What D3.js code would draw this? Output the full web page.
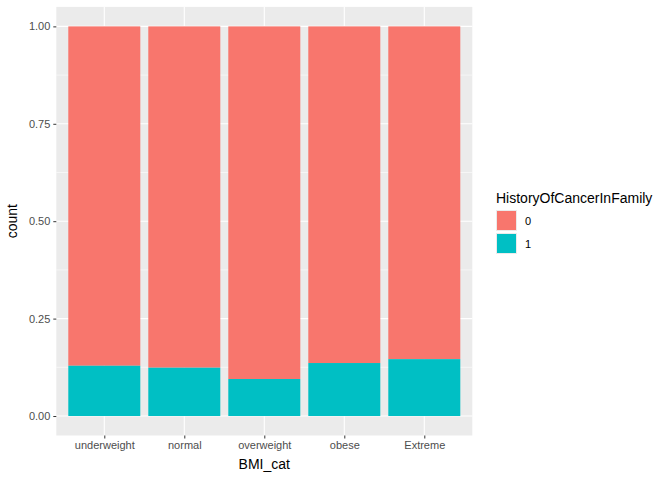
<!DOCTYPE html>
<html><head><meta charset="utf-8">
<script src="https://d3js.org/d3.v7.min.js"></script>
<style>body{margin:0;background:#fff}text{font-family:"Liberation Sans",Arial,sans-serif}</style>
</head><body><script>
var categories = ["underweight","normal","overweight","obese","Extreme"];
var share1 = [0.129, 0.124, 0.095, 0.136, 0.146];
var yTicks = [0, 0.25, 0.5, 0.75, 1];
var legendKeys = ["0","1"];
var colors = {"0":"#F8766D","1":"#00BFC4"};

var svg = d3.select("body").append("svg").attr("width",672).attr("height",480);
var L=56.3, R=472.3, T=6.9, B=435.5;
var x = d3.scaleLinear().domain([0.4,5.6]).range([L,R]);
var y = d3.scaleLinear().domain([-0.05,1.05]).range([B,T]);
svg.append("rect").attr("x",L).attr("y",T).attr("width",R-L).attr("height",B-T).attr("fill","#EBEBEB");
var minor = [0.125,0.375,0.625,0.875];
svg.selectAll(".mn").data(minor).enter().append("line").attr("x1",L).attr("x2",R)
  .attr("y1",d=>y(d)).attr("y2",d=>y(d)).attr("stroke","#fff").attr("stroke-width",0.55);
svg.selectAll(".mj").data(yTicks).enter().append("line").attr("x1",L).attr("x2",R)
  .attr("y1",d=>y(d)).attr("y2",d=>y(d)).attr("stroke","#fff").attr("stroke-width",1.1);
svg.selectAll(".vx").data(categories).enter().append("line").attr("y1",T).attr("y2",B)
  .attr("x1",(d,i)=>x(i+1)).attr("x2",(d,i)=>x(i+1)).attr("stroke","#fff").attr("stroke-width",1.1);
var bw = x(1.45)-x(0.55);
categories.forEach(function(c,i){
  svg.append("rect").attr("x",x(i+1)-bw/2).attr("width",bw).attr("y",y(1)).attr("height",y(share1[i])-y(1)).attr("fill",colors["0"]);
  svg.append("rect").attr("x",x(i+1)-bw/2).attr("width",bw).attr("y",y(share1[i])).attr("height",y(0)-y(share1[i])).attr("fill",colors["1"]);
});
var ya = svg.append("g").attr("transform","translate("+L+",0)")
  .call(d3.axisLeft(y).tickValues(yTicks).tickFormat(d3.format(".2f")).tickSize(3).tickPadding(3));
var xa = svg.append("g").attr("transform","translate(0,"+B+")")
  .call(d3.axisBottom(x).tickValues([1,2,3,4,5]).tickFormat(d=>categories[d-1]).tickSize(3).tickPadding(3));
[ya,xa].forEach(function(a){a.select(".domain").remove();
  a.selectAll("line").attr("stroke","#333");
  a.selectAll("text").attr("fill","#4D4D4D").style("font-size","11px");});
svg.append("text").attr("x",(L+R)/2).attr("y",469).attr("text-anchor","middle").style("font-size","14px").text("BMI_cat");
svg.append("text").attr("transform","translate(17,"+((T+B)/2)+") rotate(-90)").attr("text-anchor","middle").style("font-size","14px").text("count");
svg.append("text").attr("x",496).attr("y",203).style("font-size","14px").text("HistoryOfCancerInFamily");
legendKeys.forEach(function(k,i){
  svg.append("rect").attr("x",496).attr("y",210+i*23).attr("width",21).attr("height",21).attr("fill","#EBEBEB");
  svg.append("rect").attr("x",497).attr("y",211+i*23).attr("width",19).attr("height",19).attr("fill",colors[k]);
  svg.append("text").attr("x",525).attr("y",225+i*23).style("font-size","11px").text(k);
});
</script></body></html>
